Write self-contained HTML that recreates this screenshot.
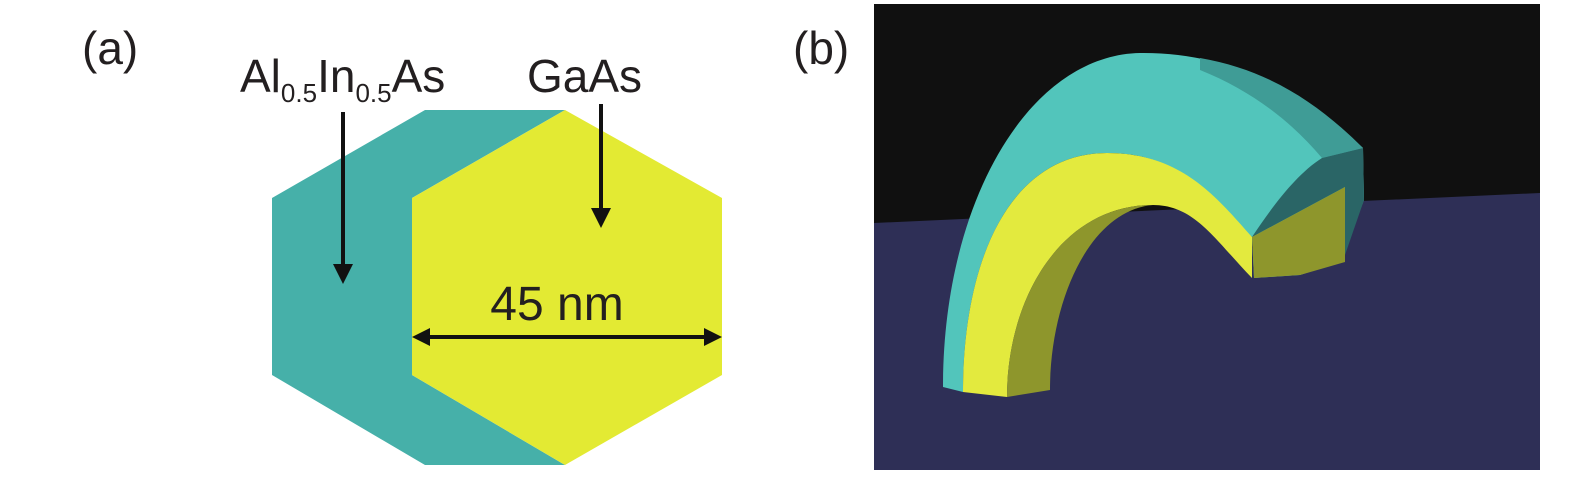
<!DOCTYPE html>
<html><head><meta charset="utf-8"><style>
html,body{margin:0;padding:0;background:#fff;}
svg{display:block;}
text{font-family:"Liberation Sans",sans-serif;fill:#231f20;}
</style></head><body>
<svg width="1575" height="484" viewBox="0 0 1575 484" xmlns="http://www.w3.org/2000/svg">
<defs>
<marker id="ah" markerWidth="8" markerHeight="8" refX="6" refY="4" orient="auto" markerUnits="userSpaceOnUse" viewBox="0 0 8 8"><path d="M0,0 L8,4 L0,8 Z" fill="#111"/></marker>
</defs>
<!-- panel a -->
<text x="82" y="64" font-size="46">(a)</text>
<text x="240" y="92" font-size="46">Al<tspan font-size="26" dy="10">0.5</tspan><tspan dy="-10">In</tspan><tspan font-size="26" dy="10">0.5</tspan><tspan dy="-10">As</tspan></text>
<text x="527" y="92" font-size="46">GaAs</text>
<polygon points="425,110 565,110 412,198 412,375 565,465 425,465 272,375 272,198" fill="#46b0a9"/>
<polygon points="565,110 722,198 722,375 565,465 412,375 412,198" fill="#e3ea33"/>
<line x1="343" y1="112" x2="343" y2="268" stroke="#111" stroke-width="4"/>
<path d="M333,264 L353,264 L343,284 Z" fill="#111"/>
<line x1="601" y1="104" x2="601" y2="212" stroke="#111" stroke-width="4"/>
<path d="M591,208 L611,208 L601,228 Z" fill="#111"/>
<line x1="425" y1="337" x2="710" y2="337" stroke="#111" stroke-width="4"/>
<path d="M412,337 L430,328 L430,346 Z" fill="#111"/>
<path d="M722,337 L704,328 L704,346 Z" fill="#111"/>
<text x="557" y="320" font-size="48" text-anchor="middle">45 nm</text>
<!-- panel b -->
<text x="793" y="64" font-size="46">(b)</text>
<rect x="874" y="4" width="666" height="466" fill="#101010"/>
<polygon points="874,223 1540,193 1540,470 874,470" fill="#2e2f56"/>
<!-- teal outer arch -->
<path d="M943,387 C943,200 1030,55 1140,53 C1230,52 1300,90 1363,148 L1364,200 L1340,262 L1300,275 L1254,278 L1252,237 C1210,195 1180,153 1107,153 C1010,153 963,260 963,392 Z" fill="#52c5bb"/>
<!-- darker top-right band -->
<path d="M1200,58 C1270,70 1320,105 1363,148 L1322,158 C1290,120 1250,90 1200,70 Z" fill="#3f9c96"/>
<!-- dark cap -->
<path d="M1363,148 L1364,200 L1345,255 L1345,187 L1252,237 C1270,210 1295,175 1322,158 Z" fill="#2a6566"/>
<!-- yellow arch -->
<path d="M963,392 C963,260 1010,153 1107,153 C1180,153 1215,195 1252,237 L1252,278 C1215,240 1195,205 1153,205 C1060,205 1007,300 1007,397 Z" fill="#e3ea3e"/>
<!-- olive inner -->
<path d="M1007,397 C1007,300 1060,205 1153,205 C1090,210 1050,300 1050,390 Z" fill="#8e962c"/>
<!-- olive cap -->
<polygon points="1252,237 1345,187 1345,262 1300,275 1254,278" fill="#8e962c"/>
</svg>
</body></html>
